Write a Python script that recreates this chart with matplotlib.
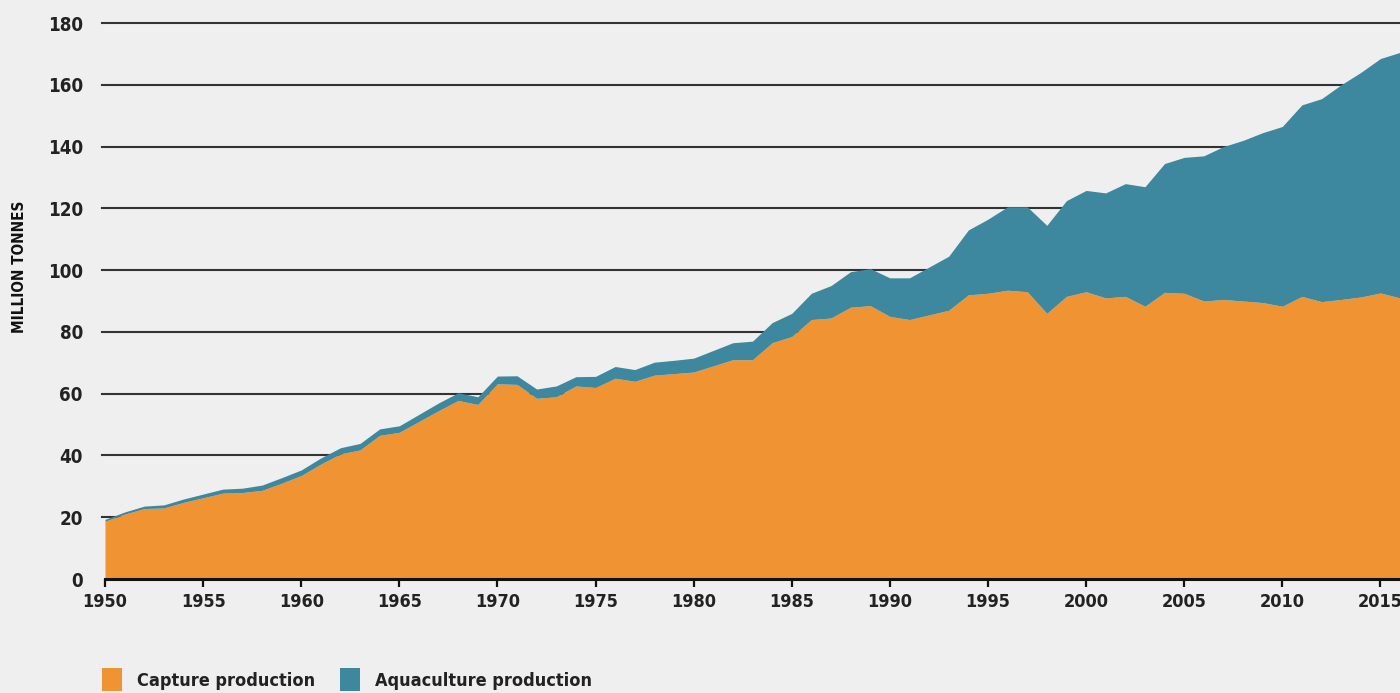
import matplotlib
matplotlib.use("Agg")
import matplotlib.pyplot as plt
from matplotlib.patches import Patch

# ───────────────────────────── data ───────────────────────────── #
years = list(range(1950, 2017))

capture = [
    18.7, 21.0, 22.8, 23.0, 24.8, 26.3, 27.8, 28.0, 28.7, 31.0,   # 1950-59
    33.5, 37.2, 40.5, 41.8, 46.5, 47.5, 51.0, 54.5, 57.8, 56.5,   # 1960-69
    63.2, 63.0, 58.5, 59.0, 62.5, 62.0, 65.0, 64.0, 66.0, 66.5,   # 1970-79
    67.0, 69.0, 71.0, 71.0, 76.5, 78.5, 84.0, 84.5, 88.0, 88.5,   # 1980-89
    85.0, 84.0, 85.5, 87.0, 92.0, 92.5, 93.5, 93.0, 86.0, 91.5,   # 1990-99
    93.0, 91.0, 91.5, 88.3, 92.8, 92.5, 90.0, 90.5, 90.0, 89.5,   # 2000-09
    88.3, 91.5, 89.8, 90.5, 91.3, 92.6, 91.0,                     # 2010-16
]

aquaculture = [
    0.6, 0.7, 0.8, 1.0, 1.1, 1.2, 1.3, 1.4, 1.7, 1.8,
    1.8, 2.0, 2.0, 2.1, 2.1, 2.1, 2.3, 2.5, 2.5, 2.5,
    2.5, 2.8, 3.0, 3.5, 3.0, 3.6, 3.8, 3.8, 4.2, 4.3,
    4.5, 5.0, 5.5, 6.0, 6.5, 7.5, 8.5, 10.5, 11.5, 12.0,
    12.5, 13.5, 15.5, 17.5, 21.0, 24.0, 27.0, 27.5, 28.5, 31.0,
    32.8, 34.0, 36.5, 38.7, 41.7, 44.0, 47.0, 49.5, 52.0, 55.0,
    58.2, 62.0, 65.7, 69.5, 72.7, 75.9, 79.5,
]

y_ticks = [0, 20, 40, 60, 80, 100, 120, 140, 160, 180]
x_ticks = list(range(1950, 2016, 5))

# ───────────────────────────── style ──────────────────────────── #
BG = "#efefef"
ORANGE = "#f09433"
BLUE = "#3e889f"

plt.rcParams["font.family"] = ["DejaVu Sans"]
plt.rcParams["font.stretch"] = "condensed"
plt.rcParams["font.weight"] = "bold"

fig = plt.figure(figsize=(14, 6.93), dpi=100, facecolor=BG)
ax = fig.add_axes([0.075, 0.1645, 0.925, 0.8023], facecolor=BG)

total = [c + a for c, a in zip(capture, aquaculture)]

for t in y_ticks[1:]:
    ax.axhline(t, color="#333333", lw=1.5, zorder=0, clip_on=False,
               xmin=-0.002)

ax.fill_between(years, 0, capture, color=ORANGE, lw=0, zorder=2)
ax.fill_between(years, capture, total, color=BLUE, lw=0, zorder=2)

ax.set_xlim(1950, 2016)
ax.set_ylim(0, 180)

for side in ("top", "right", "left"):
    ax.spines[side].set_visible(False)
ax.spines["bottom"].set_color("#111111")
ax.spines["bottom"].set_linewidth(2.2)
ax.spines["bottom"].set_zorder(3)

ax.set_yticks(y_ticks)
ax.set_yticklabels([str(v) for v in y_ticks])
ax.tick_params(axis="y", length=0, pad=16, labelsize=13.5, colors="#222222")

ax.set_xticks(x_ticks)
ax.set_xticklabels([str(v) for v in x_ticks])
ax.tick_params(axis="x", length=6, width=1.6, color="#111111", pad=4,
               labelsize=13, labelcolor="#222222")

# y-axis title placed in figure coords (sits above axes centre)
fig.text(20 / 1400, 1 - 267 / 693, "MILLION TONNES", rotation=90,
         ha="center", va="center", fontsize=11, fontweight="bold",
         color="#111111")

handles = [Patch(facecolor=ORANGE, edgecolor="none"),
           Patch(facecolor=BLUE, edgecolor="none")]
fig.legend(handles, ["Capture production", "Aquaculture production"],
           loc="lower left", bbox_to_anchor=(0.0614, -0.021), ncol=2,
           frameon=False, fontsize=13, handlelength=1.1, handleheight=1.6,
           columnspacing=1.4, handletextpad=0.83,
           labelcolor="#222222")

fig.savefig("out.png", dpi=100, facecolor=BG)
